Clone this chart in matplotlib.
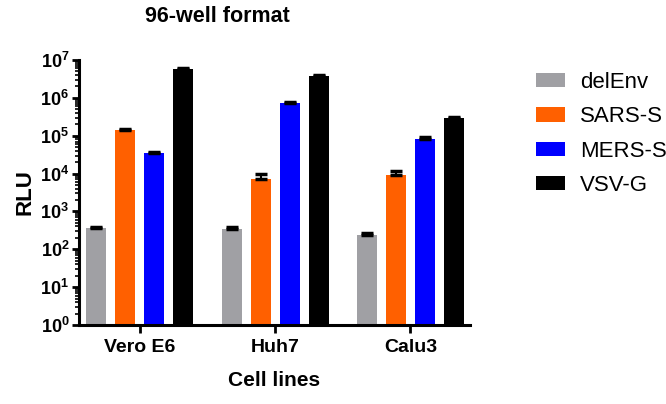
import matplotlib
matplotlib.use("Agg")
import matplotlib.pyplot as plt
import numpy as np
from matplotlib.ticker import FixedLocator, LogLocator, NullFormatter

plt.rcParams['font.family'] = ['Liberation Sans', 'DejaVu Sans']
plt.rcParams['mathtext.fontset'] = 'custom'
plt.rcParams['mathtext.rm'] = 'Liberation Sans'
plt.rcParams['mathtext.bf'] = 'Liberation Sans:bold'

categories = ['Vero E6', 'Huh7', 'Calu3']
series = ['delEnv', 'SARS-S', 'MERS-S', 'VSV-G']
colors = ['#a0a0a4', '#ff6000', '#0000ff', '#000000']
means = {
    'delEnv': [355, 350, 237],
    'SARS-S': [1.4e5, 7.1e3, 9.1e3],
    'MERS-S': [3.4e4, 7.2e5, 8.1e4],
    'VSV-G': [5.7e6, 3.7e6, 2.9e5],
}
upper = {
    'delEnv': [390, 390, 268],
    'SARS-S': [1.55e5, 9.5e3, 1.18e4],
    'MERS-S': [3.7e4, 7.6e5, 9.1e4],
    'VSV-G': [6.2e6, 4.1e6, 3.2e5],
}
ytick_exps = [0, 1, 2, 3, 4, 5, 6, 7]

fig = plt.figure(figsize=(6.66, 4.04), dpi=100)
ax = fig.add_axes([79/666, 1-325/404, (470-79)/666, (325-60)/404])

x = np.arange(len(categories))
w = 0.148
step = 0.214
for i, s in enumerate(series):
    m = np.array(means[s])
    u = np.array(upper[s])
    pos = x + (i - 1.5) * step
    ax.bar(pos, m, width=w, color=colors[i], label=s, zorder=2)
    ax.errorbar(pos, m, yerr=[np.zeros_like(m), u - m], fmt='none', ecolor='black',
                elinewidth=1.5, capsize=4, capthick=2.5, zorder=3)

ax.set_yscale('log')
ax.set_ylim(1, 1e7)
ax.set_xlim(-0.45, 2.44)
ax.yaxis.set_major_locator(FixedLocator([10.0**e for e in ytick_exps]))
ax.set_yticklabels([r'$\mathbf{10^{%d}}$' % e for e in ytick_exps], fontsize=13)
ax.yaxis.set_minor_locator(LogLocator(base=10, subs=np.arange(2, 10)))
ax.yaxis.set_minor_formatter(NullFormatter())
ax.set_xticks(x)
ax.set_xticklabels(categories, fontsize=14, fontweight='bold')

for sp in ['top', 'right']:
    ax.spines[sp].set_visible(False)
for sp in ['left', 'bottom']:
    ax.spines[sp].set_linewidth(2.2)
ax.tick_params(axis='y', which='major', length=5, width=2, pad=2)
ax.tick_params(axis='y', which='minor', length=3, width=1.2)
ax.tick_params(axis='x', which='major', length=6, width=2, pad=4)

ax.set_ylabel('RLU', fontsize=16, fontweight='bold', labelpad=3)
ax.set_xlabel('Cell lines', fontsize=15, fontweight='bold', labelpad=11)
fig.text(217/666, 1-16/404, '96-well format', ha='center', va='center',
         fontsize=15.5, fontweight='bold')

ax.legend(loc='upper left', bbox_to_anchor=(536/666, 1-72/404), bbox_transform=fig.transFigure,
          frameon=False, fontsize=16, handlelength=1.3, handleheight=0.63,
          labelspacing=0.6, handletextpad=0.68, borderpad=0, borderaxespad=0)

fig.savefig('out.png', dpi=100)
